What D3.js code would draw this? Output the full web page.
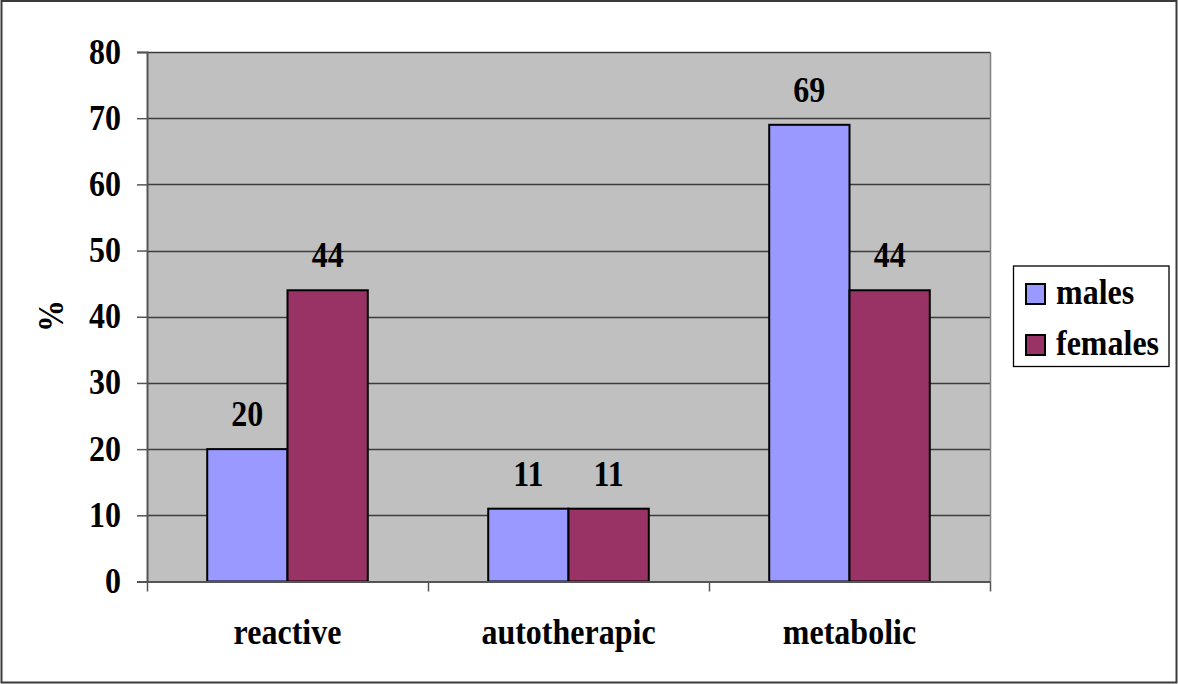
<!DOCTYPE html>
<html>
<head>
<meta charset="utf-8">
<script src="https://cdn.jsdelivr.net/npm/d3@7"></script>
<style>
  html, body { margin: 0; padding: 0; background: #fff; }
  svg { display: block; }
  text { font-family: "Liberation Serif", "Times New Roman", serif; font-weight: bold; fill: #000; }
</style>
</head>
<body>
<svg id="chart" width="1178" height="684"></svg>
<script>
// Share of each type, by sex (%)
const categories = ["reactive", "autotherapic", "metabolic"];
const seriesNames = ["males", "females"];
const males = [20, 11, 69];
const females = [44, 11, 44];
const yTicks = [0, 10, 20, 30, 40, 50, 60, 70, 80];

const colors = { males: "#9999ff", females: "#993366" };
const values = { males, females };

const W = 1178, H = 684;
const plot = { left: 147, right: 990, top: 52, bottom: 581.5 };
const FS = 32, STRETCH = 1.12;

const svg = d3.select("#chart");

// outer frame
svg.append("rect")
  .attr("x", 1.5).attr("y", 1).attr("width", W - 3).attr("height", H - 2.5)
  .attr("fill", "#fff").attr("stroke", "#3a3a3a").attr("stroke-width", 2);

const x0 = d3.scaleBand().domain(categories).range([plot.left, plot.right]).padding(0);
// two bars per group with a gap of 1.5 bar widths (0.75 each side)
const x1 = d3.scaleBand().domain(seriesNames)
  .range([x0.bandwidth() * 0.75 / 3.5, x0.bandwidth() * (1 - 0.75 / 3.5)]).padding(0);
const y = d3.scaleLinear().domain([0, 80]).range([plot.bottom, plot.top]);

// helper for slightly tall text
function label(g, tx, ty, str, anchor) {
  return g.append("text")
    .attr("transform", `translate(${tx},${ty}) scale(1,${STRETCH})`)
    .attr("text-anchor", anchor || "middle")
    .attr("font-size", FS)
    .text(str);
}

// plot background
svg.append("rect")
  .attr("x", plot.left).attr("y", plot.top)
  .attr("width", plot.right - plot.left).attr("height", plot.bottom - plot.top)
  .attr("fill", "#c0c0c0");

// gridlines
svg.append("g").selectAll("line").data(yTicks.filter(d => d > 0)).join("line")
  .attr("x1", plot.left).attr("x2", plot.right)
  .attr("y1", d => Math.round(y(d)) + 0.5).attr("y2", d => Math.round(y(d)) + 0.5)
  .attr("stroke", "#3c3c3c").attr("stroke-width", 1.3);

// right edge of plot area
svg.append("line")
  .attr("x1", plot.right + 0.5).attr("x2", plot.right + 0.5)
  .attr("y1", plot.top).attr("y2", plot.bottom)
  .attr("stroke", "#808080").attr("stroke-width", 1.5);

// y axis
const yAxis = d3.axisLeft(y).tickValues(yTicks).tickSize(10).tickFormat("");
const gy = svg.append("g").attr("transform", `translate(${plot.left},0)`).call(yAxis);
gy.select(".domain").attr("stroke", "#555").attr("stroke-width", 2);
gy.selectAll(".tick line").attr("stroke", "#555").attr("stroke-width", 1.5);
yTicks.forEach(t => label(svg, plot.left - 26, y(t) + 11.5, String(t), "end"));

// y axis title
svg.append("text")
  .attr("transform", `translate(63,316) rotate(-90) scale(1,${STRETCH})`)
  .attr("text-anchor", "middle").attr("font-size", FS)
  .text("%");

// bars
const groups = svg.append("g").selectAll("g").data(categories).join("g")
  .attr("transform", d => `translate(${x0(d)},0)`);

groups.selectAll("rect")
  .data((c, i) => seriesNames.map(s => ({ s, v: values[s][i] })))
  .join("rect")
  .attr("x", d => x1(d.s))
  .attr("y", d => y(d.v))
  .attr("width", x1.bandwidth())
  .attr("height", d => y(0) - y(d.v))
  .attr("fill", d => colors[d.s])
  .attr("stroke", "#000").attr("stroke-width", 2);

// value labels
groups.each(function (c, i) {
  const g = d3.select(this);
  seriesNames.forEach(s => {
    const v = values[s][i];
    label(g, x1(s) + x1.bandwidth() / 2, y(v) - 23, String(v));
  });
});

// x axis
const xAxis = d3.axisBottom(x0).tickSize(0).tickFormat("");
const gx = svg.append("g").attr("transform", `translate(0,${plot.bottom})`).call(xAxis);
gx.select(".domain").attr("stroke", "#555").attr("stroke-width", 2);
// category boundary ticks
svg.append("g").selectAll("line")
  .data(categories.map(c => x0(c)).concat([plot.right]))
  .join("line")
  .attr("x1", d => d + 0.5).attr("x2", d => d + 0.5)
  .attr("y1", plot.bottom).attr("y2", plot.bottom + 10)
  .attr("stroke", "#555").attr("stroke-width", 1.5);
categories.forEach(c => label(svg, x0(c) + x0.bandwidth() / 2, 644, c));

// legend
const lg = svg.append("g");
lg.append("rect")
  .attr("x", 1013.5).attr("y", 266).attr("width", 155.5).attr("height", 100.5)
  .attr("fill", "#fff").attr("stroke", "#000").attr("stroke-width", 1.3);
seriesNames.forEach((s, i) => {
  const yy = 284 + i * 51;
  lg.append("rect")
    .attr("x", 1026).attr("y", yy).attr("width", 19).attr("height", 20)
    .attr("fill", colors[s]).attr("stroke", "#000").attr("stroke-width", 2);
  label(lg, 1056, yy + 20, s, "start");
});
</script>
</body>
</html>
